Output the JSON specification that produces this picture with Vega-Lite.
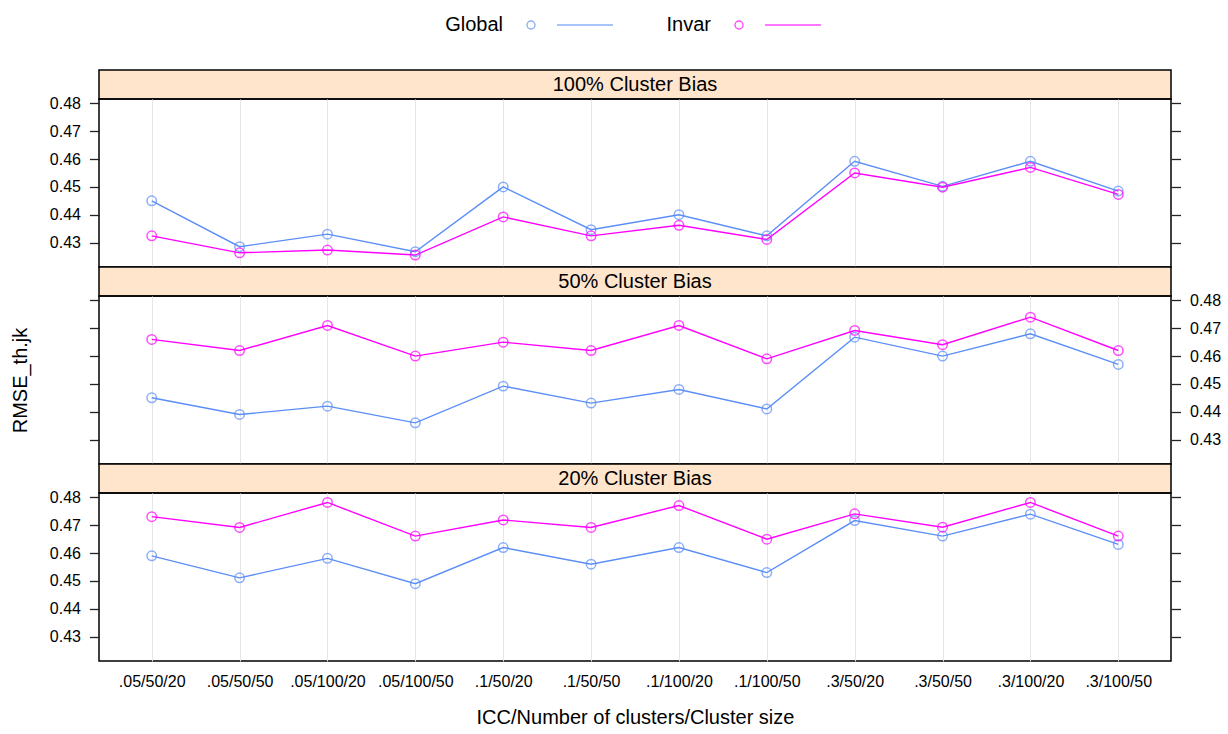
{
  "$schema": "https://vega.github.io/schema/vega-lite/v6.json",
  "background": "white",
  "padding": {"left": 10, "top": 14, "right": 5, "bottom": 5},
  "spacing": 0,
  "bounds": "flush",
  "datasets": {
    "main": [
      {"panel": "100% Cluster Bias", "series": "Global", "cond": ".05/50/20", "rmse": 0.445},
      {"panel": "100% Cluster Bias", "series": "Global", "cond": ".05/50/50", "rmse": 0.4285},
      {"panel": "100% Cluster Bias", "series": "Global", "cond": ".05/100/20", "rmse": 0.433},
      {"panel": "100% Cluster Bias", "series": "Global", "cond": ".05/100/50", "rmse": 0.4267},
      {"panel": "100% Cluster Bias", "series": "Global", "cond": ".1/50/20", "rmse": 0.450},
      {"panel": "100% Cluster Bias", "series": "Global", "cond": ".1/50/50", "rmse": 0.4346},
      {"panel": "100% Cluster Bias", "series": "Global", "cond": ".1/100/20", "rmse": 0.440},
      {"panel": "100% Cluster Bias", "series": "Global", "cond": ".1/100/50", "rmse": 0.4324},
      {"panel": "100% Cluster Bias", "series": "Global", "cond": ".3/50/20", "rmse": 0.4592},
      {"panel": "100% Cluster Bias", "series": "Global", "cond": ".3/50/50", "rmse": 0.4502},
      {"panel": "100% Cluster Bias", "series": "Global", "cond": ".3/100/20", "rmse": 0.4592},
      {"panel": "100% Cluster Bias", "series": "Global", "cond": ".3/100/50", "rmse": 0.4485},
      {"panel": "100% Cluster Bias", "series": "Invar", "cond": ".05/50/20", "rmse": 0.4324},
      {"panel": "100% Cluster Bias", "series": "Invar", "cond": ".05/50/50", "rmse": 0.4263},
      {"panel": "100% Cluster Bias", "series": "Invar", "cond": ".05/100/20", "rmse": 0.4273},
      {"panel": "100% Cluster Bias", "series": "Invar", "cond": ".05/100/50", "rmse": 0.4255},
      {"panel": "100% Cluster Bias", "series": "Invar", "cond": ".1/50/20", "rmse": 0.4392},
      {"panel": "100% Cluster Bias", "series": "Invar", "cond": ".1/50/50", "rmse": 0.4324},
      {"panel": "100% Cluster Bias", "series": "Invar", "cond": ".1/100/20", "rmse": 0.4362},
      {"panel": "100% Cluster Bias", "series": "Invar", "cond": ".1/100/50", "rmse": 0.4311},
      {"panel": "100% Cluster Bias", "series": "Invar", "cond": ".3/50/20", "rmse": 0.455},
      {"panel": "100% Cluster Bias", "series": "Invar", "cond": ".3/50/50", "rmse": 0.4499},
      {"panel": "100% Cluster Bias", "series": "Invar", "cond": ".3/100/20", "rmse": 0.457},
      {"panel": "100% Cluster Bias", "series": "Invar", "cond": ".3/100/50", "rmse": 0.4473},
      {"panel": "50% Cluster Bias", "series": "Global", "cond": ".05/50/20", "rmse": 0.445},
      {"panel": "50% Cluster Bias", "series": "Global", "cond": ".05/50/50", "rmse": 0.439},
      {"panel": "50% Cluster Bias", "series": "Global", "cond": ".05/100/20", "rmse": 0.442},
      {"panel": "50% Cluster Bias", "series": "Global", "cond": ".05/100/50", "rmse": 0.436},
      {"panel": "50% Cluster Bias", "series": "Global", "cond": ".1/50/20", "rmse": 0.4492},
      {"panel": "50% Cluster Bias", "series": "Global", "cond": ".1/50/50", "rmse": 0.4431},
      {"panel": "50% Cluster Bias", "series": "Global", "cond": ".1/100/20", "rmse": 0.448},
      {"panel": "50% Cluster Bias", "series": "Global", "cond": ".1/100/50", "rmse": 0.441},
      {"panel": "50% Cluster Bias", "series": "Global", "cond": ".3/50/20", "rmse": 0.4668},
      {"panel": "50% Cluster Bias", "series": "Global", "cond": ".3/50/50", "rmse": 0.460},
      {"panel": "50% Cluster Bias", "series": "Global", "cond": ".3/100/20", "rmse": 0.468},
      {"panel": "50% Cluster Bias", "series": "Global", "cond": ".3/100/50", "rmse": 0.457},
      {"panel": "50% Cluster Bias", "series": "Invar", "cond": ".05/50/20", "rmse": 0.466},
      {"panel": "50% Cluster Bias", "series": "Invar", "cond": ".05/50/50", "rmse": 0.462},
      {"panel": "50% Cluster Bias", "series": "Invar", "cond": ".05/100/20", "rmse": 0.471},
      {"panel": "50% Cluster Bias", "series": "Invar", "cond": ".05/100/50", "rmse": 0.460},
      {"panel": "50% Cluster Bias", "series": "Invar", "cond": ".1/50/20", "rmse": 0.465},
      {"panel": "50% Cluster Bias", "series": "Invar", "cond": ".1/50/50", "rmse": 0.462},
      {"panel": "50% Cluster Bias", "series": "Invar", "cond": ".1/100/20", "rmse": 0.471},
      {"panel": "50% Cluster Bias", "series": "Invar", "cond": ".1/100/50", "rmse": 0.459},
      {"panel": "50% Cluster Bias", "series": "Invar", "cond": ".3/50/20", "rmse": 0.4692},
      {"panel": "50% Cluster Bias", "series": "Invar", "cond": ".3/50/50", "rmse": 0.4641},
      {"panel": "50% Cluster Bias", "series": "Invar", "cond": ".3/100/20", "rmse": 0.474},
      {"panel": "50% Cluster Bias", "series": "Invar", "cond": ".3/100/50", "rmse": 0.462},
      {"panel": "20% Cluster Bias", "series": "Global", "cond": ".05/50/20", "rmse": 0.459},
      {"panel": "20% Cluster Bias", "series": "Global", "cond": ".05/50/50", "rmse": 0.4511},
      {"panel": "20% Cluster Bias", "series": "Global", "cond": ".05/100/20", "rmse": 0.4581},
      {"panel": "20% Cluster Bias", "series": "Global", "cond": ".05/100/50", "rmse": 0.449},
      {"panel": "20% Cluster Bias", "series": "Global", "cond": ".1/50/20", "rmse": 0.462},
      {"panel": "20% Cluster Bias", "series": "Global", "cond": ".1/50/50", "rmse": 0.456},
      {"panel": "20% Cluster Bias", "series": "Global", "cond": ".1/100/20", "rmse": 0.462},
      {"panel": "20% Cluster Bias", "series": "Global", "cond": ".1/100/50", "rmse": 0.453},
      {"panel": "20% Cluster Bias", "series": "Global", "cond": ".3/50/20", "rmse": 0.4717},
      {"panel": "20% Cluster Bias", "series": "Global", "cond": ".3/50/50", "rmse": 0.4661},
      {"panel": "20% Cluster Bias", "series": "Global", "cond": ".3/100/20", "rmse": 0.474},
      {"panel": "20% Cluster Bias", "series": "Global", "cond": ".3/100/50", "rmse": 0.4631},
      {"panel": "20% Cluster Bias", "series": "Invar", "cond": ".05/50/20", "rmse": 0.4731},
      {"panel": "20% Cluster Bias", "series": "Invar", "cond": ".05/50/50", "rmse": 0.4692},
      {"panel": "20% Cluster Bias", "series": "Invar", "cond": ".05/100/20", "rmse": 0.4782},
      {"panel": "20% Cluster Bias", "series": "Invar", "cond": ".05/100/50", "rmse": 0.4661},
      {"panel": "20% Cluster Bias", "series": "Invar", "cond": ".1/50/20", "rmse": 0.4719},
      {"panel": "20% Cluster Bias", "series": "Invar", "cond": ".1/50/50", "rmse": 0.4692},
      {"panel": "20% Cluster Bias", "series": "Invar", "cond": ".1/100/20", "rmse": 0.4771},
      {"panel": "20% Cluster Bias", "series": "Invar", "cond": ".1/100/50", "rmse": 0.465},
      {"panel": "20% Cluster Bias", "series": "Invar", "cond": ".3/50/20", "rmse": 0.4741},
      {"panel": "20% Cluster Bias", "series": "Invar", "cond": ".3/50/50", "rmse": 0.4693},
      {"panel": "20% Cluster Bias", "series": "Invar", "cond": ".3/100/20", "rmse": 0.4782},
      {"panel": "20% Cluster Bias", "series": "Invar", "cond": ".3/100/50", "rmse": 0.4661}
    ]
  },
  "vconcat": [
    {
      "width": 1072, "height": 29,
      "data": {"values": [{"panel": "100% Cluster Bias"}]},
      "view": {"fill": "#ffe5cc", "stroke": "black", "strokeWidth": 1.5},
      "mark": {"type": "text", "fontSize": 20, "font": "Liberation Sans", "color": "black"},
      "encoding": {"text": {"field": "panel", "type": "nominal"}}
    },
    {
      "width": 1072, "height": 168,
      "data": {"name": "main"},
      "transform": [{"filter": "datum.panel === '100% Cluster Bias'"}],
      "view": {"stroke": "black", "strokeWidth": 1.5},
      "encoding": {
        "x": {"field": "cond", "type": "nominal", "sort": [".05/50/20", ".05/50/50", ".05/100/20", ".05/100/50", ".1/50/20", ".1/50/50", ".1/100/20", ".1/100/50", ".3/50/20", ".3/50/50", ".3/100/20", ".3/100/50"], "scale": {"type": "point", "padding": 0.6}, "axis": {"labels": false, "ticks": false, "domain": false, "grid": true, "gridColor": "#e6e6e6", "title": null}},
        "color": {"field": "series", "type": "nominal", "scale": {"domain": ["Global", "Invar"], "range": ["#5b8ef7", "#ff00ff"]},
          "legend": {"orient": "none", "legendX": 462, "legendY": -56, "direction": "horizontal", "title": null, "symbolType": "M-4.5,0A0.4,0.4,0,1,1,-3.7,0A0.4,0.4,0,1,1,-4.5,0M-1.5,0L4.1,0", "symbolSize": 400, "symbolStrokeWidth": 1.4, "symbolFillColor": "transparent", "labelAlign": "right", "labelOffset": -80, "labelFontSize": 20, "labelFont": "Liberation Sans", "labelColor": "black", "columnPadding": 50}},
        "order": {"value": null}
      },
      "layer": [
        {"mark": {"type": "line", "strokeWidth": 1.4},
         "encoding": {"y": {"field": "rmse", "type": "quantitative", "scale": {"domain": [0.4212, 0.4816], "nice": false, "zero": false}, "axis": {"orient": "left", "values": [0.43, 0.44, 0.45, 0.46, 0.47, 0.48], "format": ".2f", "grid": false, "domain": false, "tickSize": 9.5, "labelPadding": 9, "title": null}}}},
        {"mark": {"type": "point", "shape": "circle", "filled": false, "size": 90, "strokeWidth": 1.5},
         "encoding": {"y": {"field": "rmse", "type": "quantitative", "scale": {"domain": [0.4212, 0.4816], "nice": false, "zero": false}, "axis": {"orient": "right", "values": [0.43, 0.44, 0.45, 0.46, 0.47, 0.48], "labels": false, "grid": false, "domain": false, "tickSize": 9.5, "title": null}}}}
      ],
      "resolve": {"axis": {"y": "independent"}}
    },
    {
      "width": 1072, "height": 29,
      "data": {"values": [{"panel": "50% Cluster Bias"}]},
      "view": {"fill": "#ffe5cc", "stroke": "black", "strokeWidth": 1.5},
      "mark": {"type": "text", "fontSize": 20, "font": "Liberation Sans", "color": "black"},
      "encoding": {"text": {"field": "panel", "type": "nominal"}}
    },
    {
      "width": 1072, "height": 168,
      "data": {"name": "main"},
      "transform": [{"filter": "datum.panel === '50% Cluster Bias'"}],
      "view": {"stroke": "black", "strokeWidth": 1.5},
      "encoding": {
        "x": {"field": "cond", "type": "nominal", "sort": [".05/50/20", ".05/50/50", ".05/100/20", ".05/100/50", ".1/50/20", ".1/50/50", ".1/100/20", ".1/100/50", ".3/50/20", ".3/50/50", ".3/100/20", ".3/100/50"], "scale": {"type": "point", "padding": 0.6}, "axis": {"labels": false, "ticks": false, "domain": false, "grid": true, "gridColor": "#e6e6e6", "title": null}},
        "color": {"field": "series", "type": "nominal", "scale": {"domain": ["Global", "Invar"], "range": ["#5b8ef7", "#ff00ff"]},
          "legend": {"orient": "none", "legendX": 462, "legendY": -56, "direction": "horizontal", "title": null, "symbolType": "M-4.5,0A0.4,0.4,0,1,1,-3.7,0A0.4,0.4,0,1,1,-4.5,0M-1.5,0L4.1,0", "symbolSize": 400, "symbolStrokeWidth": 1.4, "symbolFillColor": "transparent", "labelAlign": "right", "labelOffset": -80, "labelFontSize": 20, "labelFont": "Liberation Sans", "labelColor": "black", "columnPadding": 50}},
        "order": {"value": null}
      },
      "layer": [
        {"mark": {"type": "line", "strokeWidth": 1.4},
         "encoding": {"y": {"field": "rmse", "type": "quantitative", "scale": {"domain": [0.4212, 0.4816], "nice": false, "zero": false}, "axis": {"orient": "left", "values": [0.43, 0.44, 0.45, 0.46, 0.47, 0.48], "labels": false, "grid": false, "domain": false, "tickSize": 9.5, "title": "RMSE_th.jk", "titlePadding": 58}}}},
        {"mark": {"type": "point", "shape": "circle", "filled": false, "size": 90, "strokeWidth": 1.5},
         "encoding": {"y": {"field": "rmse", "type": "quantitative", "scale": {"domain": [0.4212, 0.4816], "nice": false, "zero": false}, "axis": {"orient": "right", "values": [0.43, 0.44, 0.45, 0.46, 0.47, 0.48], "format": ".2f", "grid": false, "domain": false, "tickSize": 9.5, "labelPadding": 9, "title": null}}}}
      ],
      "resolve": {"axis": {"y": "independent"}}
    },
    {
      "width": 1072, "height": 29,
      "data": {"values": [{"panel": "20% Cluster Bias"}]},
      "view": {"fill": "#ffe5cc", "stroke": "black", "strokeWidth": 1.5},
      "mark": {"type": "text", "fontSize": 20, "font": "Liberation Sans", "color": "black"},
      "encoding": {"text": {"field": "panel", "type": "nominal"}}
    },
    {
      "width": 1072, "height": 168,
      "data": {"name": "main"},
      "transform": [{"filter": "datum.panel === '20% Cluster Bias'"}],
      "view": {"stroke": "black", "strokeWidth": 1.5},
      "encoding": {
        "x": {"field": "cond", "type": "nominal", "sort": [".05/50/20", ".05/50/50", ".05/100/20", ".05/100/50", ".1/50/20", ".1/50/50", ".1/100/20", ".1/100/50", ".3/50/20", ".3/50/50", ".3/100/20", ".3/100/50"], "scale": {"type": "point", "padding": 0.6}, "axis": {"labels": true, "labelAngle": 0, "ticks": false, "domain": false, "grid": true, "gridColor": "#e6e6e6", "labelPadding": 12, "title": "ICC/Number of clusters/Cluster size", "titlePadding": 18}},
        "color": {"field": "series", "type": "nominal", "scale": {"domain": ["Global", "Invar"], "range": ["#5b8ef7", "#ff00ff"]},
          "legend": {"orient": "none", "legendX": 462, "legendY": -56, "direction": "horizontal", "title": null, "symbolType": "M-4.5,0A0.4,0.4,0,1,1,-3.7,0A0.4,0.4,0,1,1,-4.5,0M-1.5,0L4.1,0", "symbolSize": 400, "symbolStrokeWidth": 1.4, "symbolFillColor": "transparent", "labelAlign": "right", "labelOffset": -80, "labelFontSize": 20, "labelFont": "Liberation Sans", "labelColor": "black", "columnPadding": 50}},
        "order": {"value": null}
      },
      "layer": [
        {"mark": {"type": "line", "strokeWidth": 1.4},
         "encoding": {"y": {"field": "rmse", "type": "quantitative", "scale": {"domain": [0.4212, 0.4816], "nice": false, "zero": false}, "axis": {"orient": "left", "values": [0.43, 0.44, 0.45, 0.46, 0.47, 0.48], "format": ".2f", "grid": false, "domain": false, "tickSize": 9.5, "labelPadding": 9, "title": null}}}},
        {"mark": {"type": "point", "shape": "circle", "filled": false, "size": 90, "strokeWidth": 1.5},
         "encoding": {"y": {"field": "rmse", "type": "quantitative", "scale": {"domain": [0.4212, 0.4816], "nice": false, "zero": false}, "axis": {"orient": "right", "values": [0.43, 0.44, 0.45, 0.46, 0.47, 0.48], "labels": false, "grid": false, "domain": false, "tickSize": 9.5, "title": null}}}}
      ],
      "resolve": {"axis": {"y": "independent"}}
    }
  ],
  "config": {
    "font": "Liberation Sans",
    "axis": {
      "labelFont": "Liberation Sans", "labelFontSize": 16, "labelColor": "black",
      "labelFlush": false, "labelOverlap": false,
      "tickColor": "#222", "tickWidth": 1.3,
      "titleFont": "Liberation Sans", "titleFontSize": 20, "titleFontWeight": "normal", "titleColor": "black"
    },
    "legend": {"labelFont": "Liberation Sans"}
  }
}
